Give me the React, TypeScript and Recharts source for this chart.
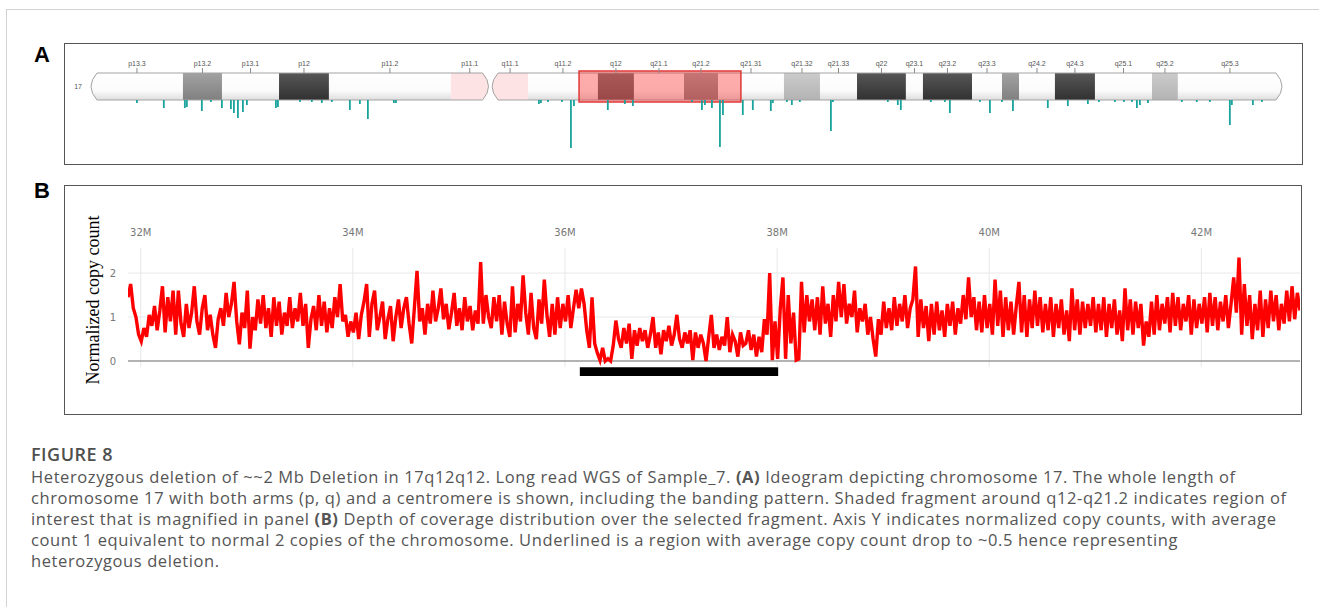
import React from "react";
import {
  ComposedChart,
  LineChart,
  Line,
  Bar,
  XAxis,
  YAxis,
  ReferenceArea,
  ReferenceLine,
} from "recharts";

// ---- Panel A: chromosome 17 ideogram (positions in Mb) ----
const bandNames = [
  "p13.3", "p13.2", "p13.1", "p12", "p11.2", "p11.1", "q11.1", "q11.2",
  "q12", "q21.1", "q21.2", "q21.31", "q21.32", "q21.33", "q22", "q23.1",
  "q23.2", "q23.3", "q24.1", "q24.2", "q24.3", "q25.1", "q25.2", "q25.3",
];
const bandStartMb = [
  0, 6.43, 9.16, 13.15, 16.64, 25.17, 28.05, 30.56, 35.45, 37.97, 41.47, 43.85,
  48.46, 50.98, 53.57, 56.99, 58.18, 61.61, 63.71, 64.9, 67.41, 70.21, 74.2, 76.01,
];
const bandEndMb = [
  6.43, 9.16, 13.15, 16.64, 25.17, 27.8, 30.56, 35.45, 37.97, 41.47, 43.85, 48.46,
  50.98, 53.57, 56.99, 58.18, 61.61, 63.71, 64.9, 67.41, 70.21, 74.2, 76.01, 83.29,
];
const bandStains = [
  "gneg", "gpos50", "gneg", "gpos100", "gneg", "acen", "acen", "gneg",
  "gpos75", "gneg", "gpos50", "gneg", "gpos25", "gneg", "gpos100", "gneg",
  "gpos100", "gneg", "gpos50", "gneg", "gpos100", "gneg", "gpos25", "gneg",
];
const unlabelledBands = ["q24.1"];
const chromLengthMb = 83.29;

// region of interest shaded on the ideogram
const roiStartMb = 34.13;
const roiEndMb = 45.45;

// coverage dips drawn under the ideogram
const dipPosMb = [
  3.22, 5.1, 6.57, 6.71, 7.76, 8.39, 9.16, 9.79, 10.0, 10.28, 10.63, 10.91,
  12.94, 13.08, 14.62, 15.45, 16.15, 16.85, 18.11, 18.81, 19.37, 21.19, 21.33,
  31.33, 31.47, 31.96, 32.94, 33.57, 33.78, 36.15, 37.34, 37.9, 42.03, 42.73,
  42.94, 43.43, 43.99, 44.2, 45.59, 46.29, 47.55, 47.69, 48.67, 49.02, 49.58,
  51.75, 51.89, 55.73, 56.43, 56.64, 58.74, 59.72, 60.07, 62.17, 62.87, 63.71,
  64.48, 66.92, 68.32, 69.72, 70.49, 71.61, 72.24, 72.8, 73.15, 73.36, 73.92,
  76.29, 77.34, 78.25, 79.65, 79.79, 81.26, 81.89,
];
const dipDepth = [
  3, 8, 8, 7, 11, 2, 8, 9, 13, 18, 12, 5,
  8, 7, 2, 2, 3, 2, 10, 4, 19, 3, 3,
  4, 3, 2, 2, 48, 6, 10, 4, 6, 2, 10,
  5, 8, 47, 15, 15, 10, 11, 3, 2, 5, 2,
  31, 2, 2, 5, 10, 2, 2, 13, 2, 13, 2,
  11, 8, 6, 4, 2, 2, 2, 2, 8, 5, 3,
  2, 2, 2, 25, 5, 5, 2,
];

// ---- Panel B: normalized copy count, 25 kb bins from 31.88 Mb ----
const copyBinStartMb = 31.88;
const copyBinSizeMb = 0.025;
const copyValues = [
  // 31.88 - 32.855
  1.45, 1.75, 1.2, 1.0, 0.6, 0.45, 0.75, 0.55, 1.05, 0.8, 1.25, 0.7, 1.15, 1.7, 0.65, 1.45, 0.9, 1.6, 0.6, 1.6,
  0.85, 0.55, 1.3, 0.75, 1.1, 1.7, 0.9, 0.6, 1.2, 1.5, 0.7, 1.05, 0.6, 0.3, 0.95, 1.2, 0.8, 1.55, 1.0, 1.3,
  // 32.88 - 33.855
  1.8, 0.9, 0.38, 1.1, 0.75, 1.6, 0.28, 1.0, 0.7, 1.4, 0.85, 1.5, 0.75, 1.2, 0.55, 1.45, 0.8, 1.35, 0.6, 1.1,
  0.8, 1.45, 0.75, 1.2, 0.9, 1.55, 0.8, 1.3, 0.3, 0.95, 1.25, 0.7, 1.5, 0.8, 1.35, 0.65, 1.2, 0.75, 1.45, 1.0,
  // 33.88 - 34.855
  1.75, 0.9, 1.05, 0.55, 0.9, 0.65, 1.1, 0.5, 1.05, 1.35, 1.75, 0.55, 1.3, 1.6, 0.7, 1.0, 1.35, 0.5, 0.95, 1.25,
  0.45, 1.0, 1.4, 0.75, 1.2, 1.45, 0.85, 0.4, 1.2, 2.05, 0.9, 1.2, 0.6, 1.3, 0.85, 1.6, 0.9, 1.2, 1.65, 0.95,
  // 34.88 - 35.855
  1.3, 0.72, 1.1, 1.55, 0.8, 1.2, 0.7, 1.45, 0.9, 1.25, 0.7, 1.15, 0.85, 2.25, 0.85, 1.5, 1.0, 0.75, 1.45, 0.9,
  1.5, 0.6, 1.35, 0.85, 0.55, 1.7, 0.65, 1.3, 0.9, 1.95, 1.1, 0.6, 1.55, 0.75, 0.5, 1.4, 0.85, 1.85, 1.05, 0.55,
  // 35.88 - 36.855
  1.3, 0.6, 1.45, 0.75, 1.3, 0.9, 1.5, 0.75, 1.2, 1.62, 1.2, 1.65, 1.3, 0.7, 0.3, 1.45, 0.4, 0.18, 0.02, 0.3,
  0.0, 0.05, 0.0, 0.35, 0.92, 0.5, 0.3, 0.75, 0.4, 0.85, 0.05, 0.7, 0.35, 0.75, 0.45, 0.7, 0.3, 0.6, 1.0, 0.3,
  // 36.88 - 37.855
  0.65, 0.15, 0.7, 0.45, 0.8, 0.35, 0.6, 1.05, 0.5, 0.3, 0.65, 0.4, 0.7, 0.02, 0.65, 0.3, 0.6, 0.4, 0.0, 0.55,
  1.05, 0.3, 0.6, 0.25, 0.55, 0.35, 1.0, 0.2, 0.6, 0.45, 0.1, 0.65, 0.35, 0.4, 0.7, 0.25, 0.6, 0.1, 0.55, 0.2,
  // 37.88 - 38.855
  0.95, 0.6, 2.0, 0.02, 0.9, 0.05, 1.2, 1.9, 0.05, 1.5, 0.4, 1.1, 0.02, 0.05, 1.8, 0.65, 1.5, 0.9, 1.4, 0.7,
  1.45, 0.6, 1.7, 0.85, 1.3, 0.55, 1.5, 0.9, 1.8, 1.0, 1.75, 0.85, 1.3, 1.0, 1.6, 0.65, 1.2, 0.9, 1.3, 0.6,
  // 38.88 - 39.855
  1.0, 0.5, 0.1, 0.95, 0.6, 1.35, 0.75, 1.2, 0.7, 1.45, 0.8, 1.3, 0.9, 1.5, 0.75, 1.2, 1.4, 2.15, 0.55, 1.4,
  0.75, 1.25, 0.45, 1.3, 0.6, 1.35, 0.7, 1.15, 0.55, 1.3, 0.8, 1.35, 0.6, 1.2, 0.85, 1.5, 0.95, 1.9, 1.0, 1.45,
  // 39.88 - 40.855
  0.7, 1.35, 0.65, 1.5, 0.75, 1.3, 0.6, 1.85, 0.8, 1.6, 0.55, 1.45, 0.7, 1.35, 0.6, 1.25, 1.8, 0.65, 1.5, 0.55,
  1.4, 0.75, 1.6, 0.8, 1.45, 0.65, 1.3, 0.7, 1.45, 0.55, 1.3, 0.75, 1.4, 0.6, 1.15, 0.45, 1.65, 0.7, 1.4, 0.6,
  // 40.88 - 41.855
  1.35, 0.75, 1.3, 0.8, 1.45, 0.65, 1.3, 0.7, 1.45, 0.55, 1.3, 0.75, 1.4, 0.6, 1.15, 0.45, 1.65, 0.7, 1.4, 0.6,
  1.35, 0.75, 1.3, 0.35, 0.9, 0.55, 1.35, 0.6, 1.5, 0.7, 1.3, 0.85, 1.45, 0.65, 1.55, 0.8, 1.45, 0.7, 1.3, 0.9,
  // 41.88 - 42.855
  1.5, 0.6, 1.4, 0.75, 1.3, 0.85, 1.45, 0.65, 1.55, 0.8, 1.45, 0.7, 1.35, 0.9, 1.5, 0.75, 1.3, 1.9, 1.1, 2.35,
  0.6, 1.75, 0.8, 1.5, 0.5, 1.3, 0.7, 1.6, 0.55, 1.4, 0.75, 1.6, 0.9, 1.5, 0.7, 1.3, 0.85, 1.6, 0.9, 1.7,
  // 42.88 - 42.93
  0.95, 1.55, 1.15,
];
const copyXTicks = [32, 34, 36, 38, 40, 42];
const copyYTicks = [0, 1, 2];
const deletionStartMb = 36.14;
const deletionEndMb = 38.01;

const captionLines = [
  ["Heterozygous deletion of ~~2 Mb Deletion in 17q12q12. Long read WGS of Sample_7. ", "(A)", " Ideogram depicting chromosome 17. The whole length of"],
  ["chromosome 17 with both arms (p, q) and a centromere is shown, including the banding pattern. Shaded fragment around q12-q21.2 indicates region of"],
  ["interest that is magnified in panel ", "(B)", " Depth of coverage distribution over the selected fragment. Axis Y indicates normalized copy counts, with average"],
  ["count 1 equivalent to normal 2 copies of the chromosome. Underlined is a region with average copy count drop to ~0.5 hence representing"],
  ["heterozygous deletion."],
];

const stainFill: Record<string, string> = {
  gneg: "url(#g-gneg)",
  gpos25: "url(#g-gpos25)",
  gpos50: "url(#g-gpos50)",
  gpos75: "url(#g-gpos75)",
  gpos100: "url(#g-gpos100)",
  acen: "#fde3e3",
};

const bands = bandNames.map((name, i) => ({
  name,
  start: bandStartMb[i],
  end: bandEndMb[i],
  stain: bandStains[i],
  capLeft: i === 0 || name === "q11.1",
  capRight: i === bandNames.length - 1 || name === "p11.1",
}));
const labelled = bands.filter((b) => !unlabelledBands.includes(b.name));
const labelTicks = labelled.map((b) => (b.start + b.end) / 2);

const dipData = dipPosMb.map((p, i) => ({ pos: p, dip: -dipDepth[i] }));
const copyData = copyValues.map((v, i) => ({
  mb: +(copyBinStartMb + i * copyBinSizeMb).toFixed(3),
  cn: v,
}));

const CAP = 6;

function bandShape(b: (typeof bands)[number]) {
  return (props: any) => {
    const { x, y, width, height } = props;
    const left = x;
    const right = x + width;
    const top = y;
    const bottom = y + height;
    const mid = y + height / 2;
    const l0 = b.capLeft ? left + CAP : left;
    const r0 = b.capRight ? right - CAP : right;
    const fillPath =
      `M${l0},${top} L${r0},${top} ` +
      (b.capRight ? `Q${right + CAP},${mid} ${r0},${bottom} ` : `L${right},${bottom} `) +
      `L${l0},${bottom} ` +
      (b.capLeft ? `Q${left - CAP},${mid} ${l0},${top} ` : `L${left},${top} `) +
      "Z";
    const edgePath =
      `M${l0},${top} L${r0},${top} ` +
      (b.capRight ? `Q${right + CAP},${mid} ${r0},${bottom} ` : `M${r0},${bottom} `) +
      `L${l0},${bottom}` +
      (b.capLeft ? ` Q${left - CAP},${mid} ${l0},${top}` : "");
    return (
      <g>
        <path d={fillPath} fill={stainFill[b.stain]} stroke="none" />
        <path d={edgePath} fill="none" stroke="#a3a3a3" strokeWidth={1} />
      </g>
    );
  };
}

function Ideogram() {
  return (
    <ComposedChart
      width={1239}
      height={122}
      data={dipData}
      margin={{ top: 10, right: 21, bottom: 5, left: 7 }}
    >
      <defs>
        <linearGradient id="g-gneg" x1="0" y1="0" x2="0" y2="1">
          <stop offset="0%" stopColor="#ffffff" />
          <stop offset="65%" stopColor="#fbfbfb" />
          <stop offset="100%" stopColor="#dedede" />
        </linearGradient>
        <linearGradient id="g-gpos25" x1="0" y1="0" x2="0" y2="1">
          <stop offset="0%" stopColor="#cbcbcb" />
          <stop offset="100%" stopColor="#b3b3b3" />
        </linearGradient>
        <linearGradient id="g-gpos50" x1="0" y1="0" x2="0" y2="1">
          <stop offset="0%" stopColor="#a2a2a2" />
          <stop offset="100%" stopColor="#808080" />
        </linearGradient>
        <linearGradient id="g-gpos75" x1="0" y1="0" x2="0" y2="1">
          <stop offset="0%" stopColor="#747474" />
          <stop offset="100%" stopColor="#585858" />
        </linearGradient>
        <linearGradient id="g-gpos100" x1="0" y1="0" x2="0" y2="1">
          <stop offset="0%" stopColor="#575757" />
          <stop offset="100%" stopColor="#313131" />
        </linearGradient>
      </defs>
      <XAxis
        dataKey="pos"
        type="number"
        orientation="top"
        domain={[0, chromLengthMb]}
        ticks={labelTicks}
        interval={0}
        tickFormatter={(_v, i) => labelled[i]?.name ?? ""}
        tick={{ fontSize: 7, fill: "#555", fontFamily: "Liberation Sans" }}
        tickSize={5}
        tickMargin={2}
        tickLine={{ stroke: "#8a8a8a" }}
        axisLine={false}
        height={20}
        allowDataOverflow
      />
      <YAxis
        type="number"
        domain={[-60, 27]}
        ticks={[13.5]}
        tickFormatter={() => "17"}
        tick={{ fontSize: 7, fill: "#555", fontFamily: "Liberation Sans" }}
        tickLine={false}
        axisLine={false}
        tickMargin={3}
        width={20}
        allowDataOverflow
      />
      {bands.map((b) => (
        <ReferenceArea
          key={b.name}
          x1={b.start}
          x2={b.end}
          y1={0}
          y2={27}
          ifOverflow="visible"
          shape={bandShape(b)}
        />
      ))}
      <ReferenceArea
        x1={roiStartMb}
        x2={roiEndMb}
        y1={-2}
        y2={29}
        ifOverflow="visible"
        fill="#ff3030"
        fillOpacity={0.4}
        stroke="#e03838"
        strokeWidth={1.5}
      />
      <Bar dataKey="dip" fill="#19a39c" barSize={3} isAnimationActive={false} />
    </ComposedChart>
  );
}

function CopyCountChart() {
  return (
    <LineChart
      width={1238}
      height={230}
      data={copyData}
      margin={{ top: 33, right: 2, bottom: 32, left: 34 }}
    >
      <XAxis
        dataKey="mb"
        type="number"
        orientation="top"
        domain={[31.88, 42.93]}
        ticks={copyXTicks}
        tickFormatter={(v) => `${v}M`}
        tick={{ fontSize: 10, fill: "#777", fontFamily: "DejaVu Sans" }}
        tickLine={false}
        axisLine={false}
        tickMargin={6}
        height={30}
        allowDataOverflow
      />
      <YAxis
        type="number"
        domain={[-0.5, 2.57]}
        ticks={copyYTicks}
        tick={{ fontSize: 10, fill: "#777", fontFamily: "DejaVu Sans" }}
        tickLine={false}
        axisLine={false}
        tickMargin={6}
        width={30}
        allowDataOverflow
      />
      {copyXTicks.map((t) => (
        <ReferenceLine
          key={t}
          segment={[
            { x: t, y: -0.14 },
            { x: t, y: 2.57 },
          ]}
          stroke="#e8e8e8"
        />
      ))}
      <ReferenceLine y={2} stroke="#e8e8e8" />
      <ReferenceLine y={1} stroke="#e8e8e8" />
      <ReferenceLine y={0} stroke="#9a9a9a" strokeWidth={1.5} />
      <Line
        type="linear"
        dataKey="cn"
        stroke="#ff0000"
        strokeWidth={3.4}
        dot={false}
        isAnimationActive={false}
      />
      <ReferenceArea
        x1={deletionStartMb}
        x2={deletionEndMb}
        y1={-0.34}
        y2={-0.14}
        fill="#000"
        fillOpacity={1}
        stroke="none"
      />
    </LineChart>
  );
}

export default function App() {
  const boxStyle: React.CSSProperties = {
    position: "absolute",
    border: "1.5px solid #555",
    boxSizing: "border-box",
    pointerEvents: "none",
  };
  const letterStyle: React.CSSProperties = {
    position: "absolute",
    fontFamily: "Liberation Sans",
    fontWeight: 700,
    fontSize: 22,
    lineHeight: "22px",
    color: "#000",
  };
  return (
    <div
      style={{
        position: "absolute",
        left: 0,
        top: 0,
        width: 1319,
        height: 607,
        overflow: "hidden",
        background: "#fff",
        fontFamily: "Open Sans",
      }}
    >
      <div
        style={{
          position: "absolute",
          left: 6,
          top: 9,
          width: 1400,
          height: 700,
          borderLeft: "1px solid #d2d2d2",
          borderTop: "1px solid #d2d2d2",
        }}
      />
      <div style={{ ...letterStyle, left: 34, top: 44 }}>A</div>
      <div style={{ ...letterStyle, left: 34, top: 180 }}>B</div>

      <div style={{ position: "absolute", left: 64, top: 43 }}>
        <Ideogram />
      </div>
      <div style={{ ...boxStyle, left: 64, top: 43, width: 1239, height: 122 }} />

      <div style={{ position: "absolute", left: 64, top: 185 }}>
        <CopyCountChart />
      </div>
      <div style={{ ...boxStyle, left: 64, top: 185, width: 1238, height: 230 }} />
      <div
        style={{
          position: "absolute",
          left: -7,
          top: 289,
          width: 200,
          height: 22,
          lineHeight: "22px",
          textAlign: "center",
          transform: "rotate(-90deg)",
          fontFamily: "Liberation Serif",
          fontSize: 18,
          color: "#000",
          whiteSpace: "nowrap",
        }}
      >
        Normalized copy count
      </div>

      <div
        style={{
          position: "absolute",
          left: 31,
          top: 443,
          fontSize: 18,
          letterSpacing: 0.5,
          fontWeight: 600,
          color: "#4f4f4f",
          lineHeight: "22px",
        }}
      >
        FIGURE 8
      </div>
      <div
        style={{
          position: "absolute",
          left: 31,
          top: 466,
          fontSize: 16.5,
          letterSpacing: 0.6,
          color: "#555",
          lineHeight: "21px",
          whiteSpace: "nowrap",
        }}
      >
        {captionLines.map((parts, li) => (
          <div key={li}>
            {parts.map((p, pi) =>
              p === "(A)" || p === "(B)" ? <b key={pi}>{p}</b> : <span key={pi}>{p}</span>
            )}
          </div>
        ))}
      </div>
    </div>
  );
}
